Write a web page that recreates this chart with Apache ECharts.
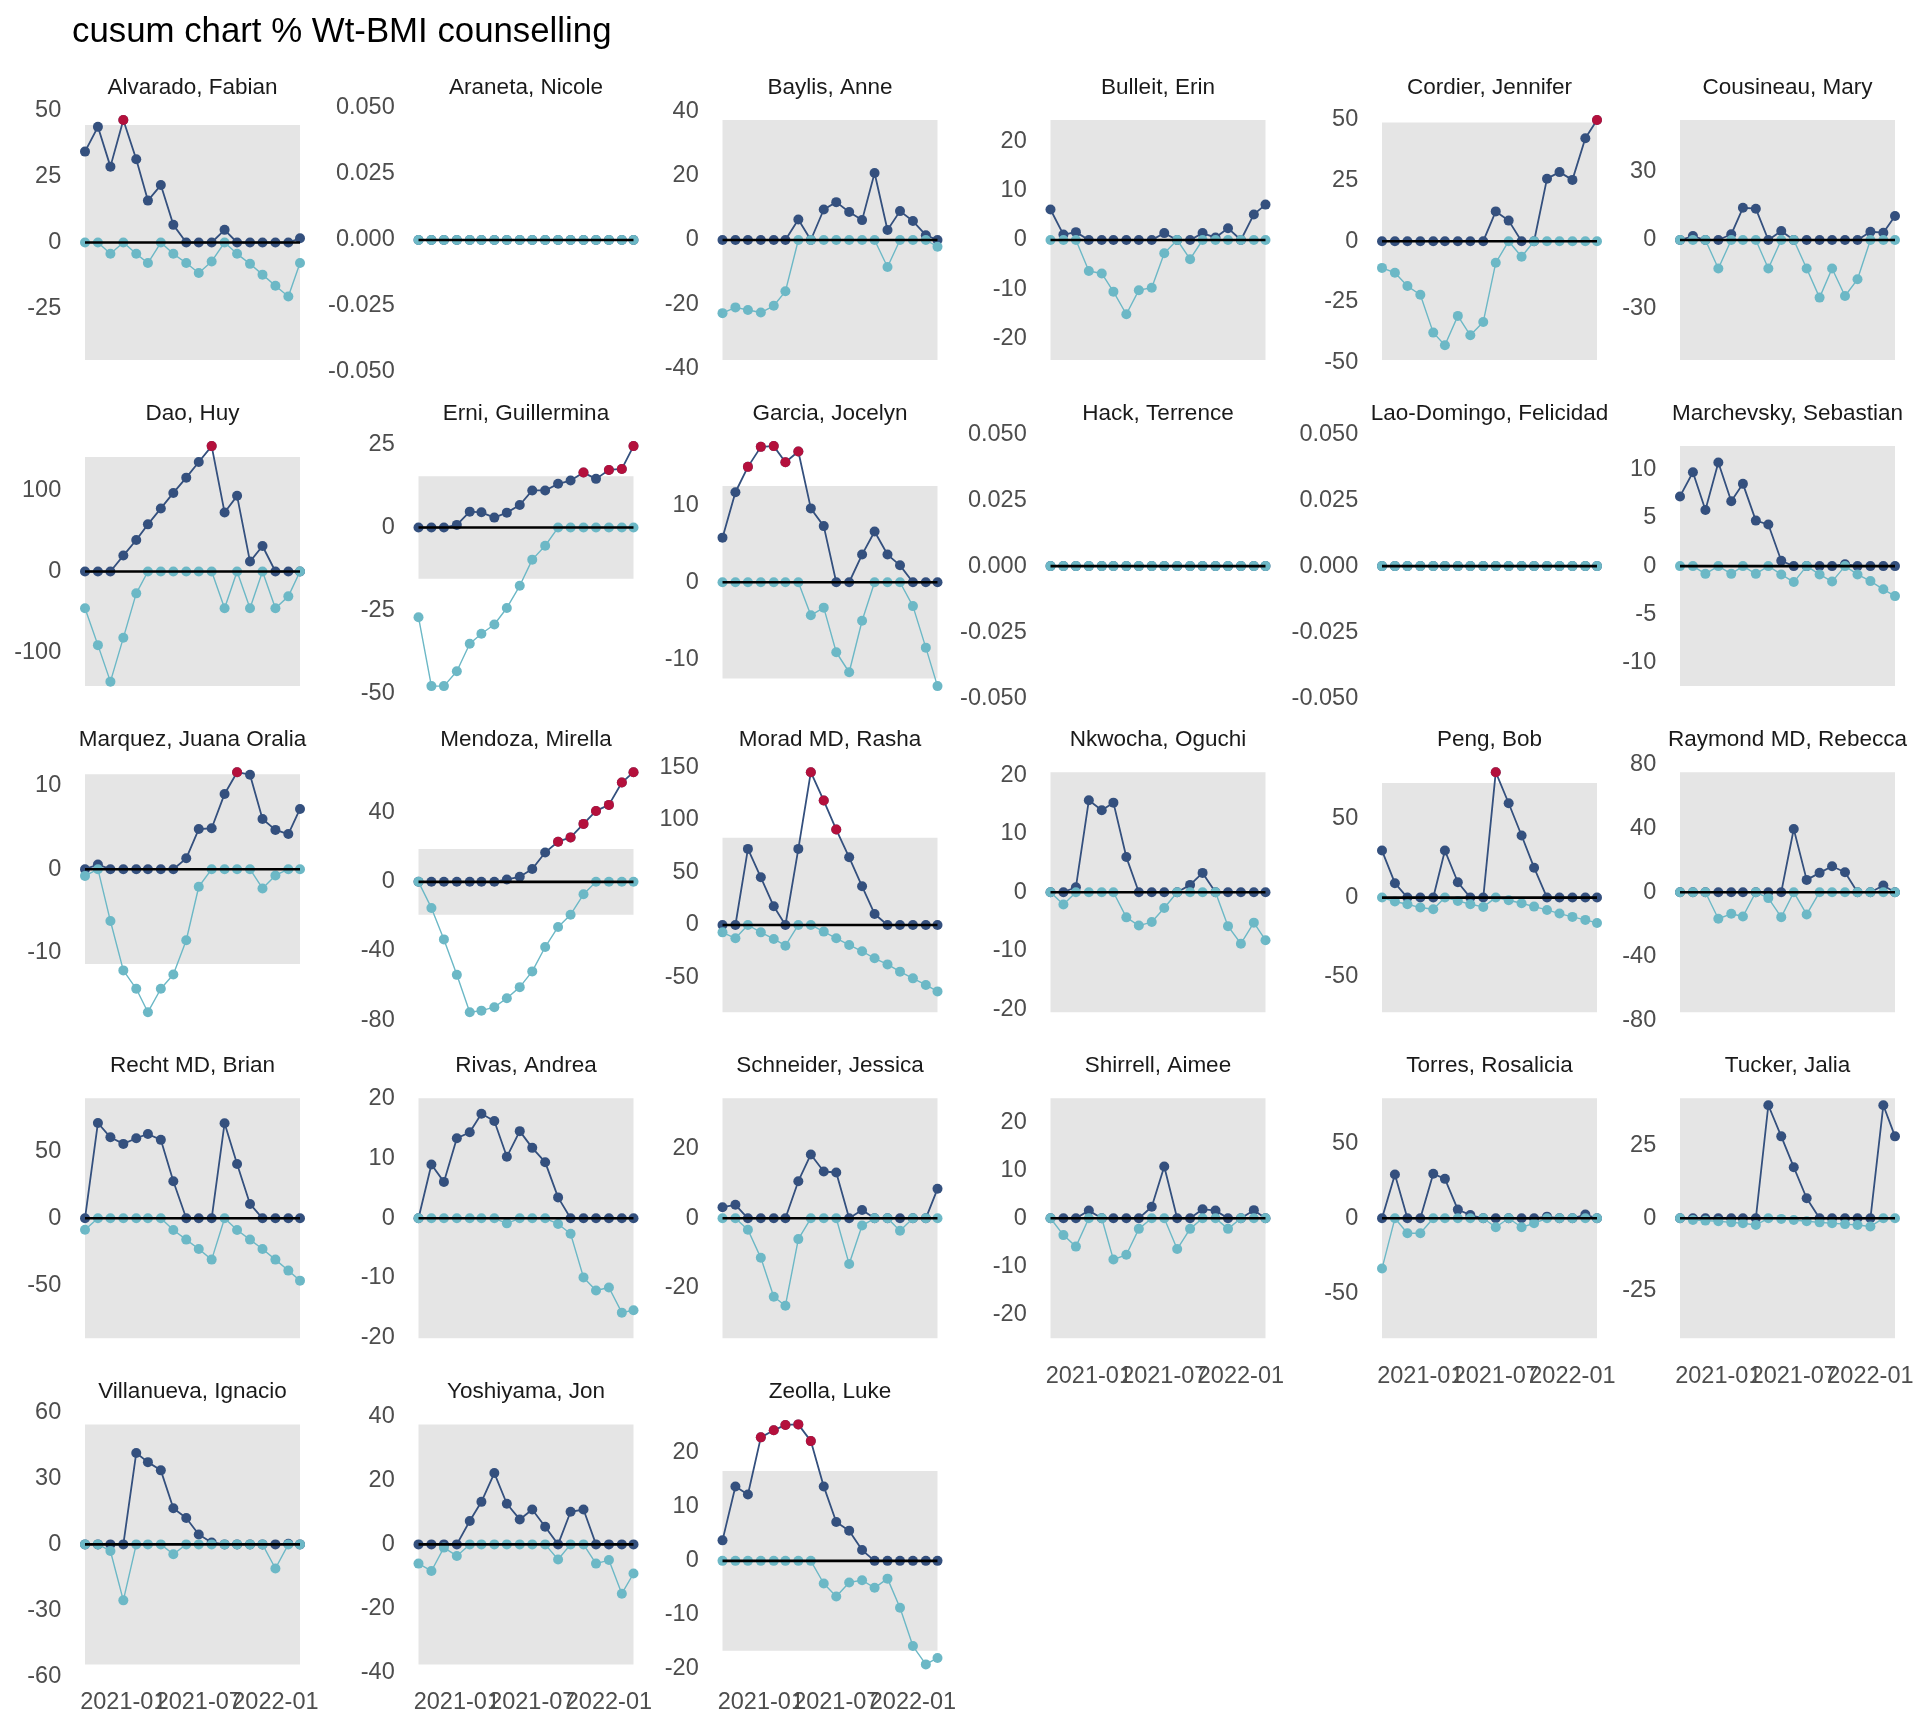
<!DOCTYPE html>
<html>
<head>
<meta charset="utf-8">
<script src="https://cdn.jsdelivr.net/npm/echarts@6/dist/echarts.min.js"></script>
<style>
html,body{margin:0;padding:0;background:#ffffff;}
#c{width:1920px;height:1728px;}
</style>
</head>
<body>
<div id="c"></div>
<script>
// ---------------- DATA ----------------
const chartTitle = 'cusum chart % Wt-BMI counselling';
const months = ['2020-10','2020-11','2020-12','2021-01','2021-02','2021-03','2021-04','2021-05','2021-06',
                '2021-07','2021-08','2021-09','2021-10','2021-11','2021-12','2022-01','2022-02','2022-03'];
const xTickLabels = ['2021-01','2021-07','2022-01'];

const providers = [
  'Alvarado, Fabian','Araneta, Nicole','Baylis, Anne','Bulleit, Erin','Cordier, Jennifer','Cousineau, Mary',
  'Dao, Huy','Erni, Guillermina','Garcia, Jocelyn','Hack, Terrence','Lao-Domingo, Felicidad','Marchevsky, Sebastian',
  'Marquez, Juana Oralia','Mendoza, Mirella','Morad MD, Rasha','Nkwocha, Oguchi','Peng, Bob','Raymond MD, Rebecca',
  'Recht MD, Brian','Rivas, Andrea','Schneider, Jessica','Shirrell, Aimee','Torres, Rosalicia','Tucker, Jalia',
  'Villanueva, Ignacio','Yoshiyama, Jon','Zeolla, Luke'
];

// decision interval (h) per provider; null = no limit band
const hLimit = [44.6, null, 37.4, 24.4, 49, 52.5,
                141, 15.5, 12.5, null, null, 12.4,
                11.35, 19, 83, 20.5, 72.4, 75,
                89.5, 20.1, 34.6, 25, 80, 41.3,
                54.7, 37.5, 16.65];

const Z18 = [0,0,0,0,0,0,0,0,0,0,0,0,0,0,0,0,0,0];

const upperCusum = [
  [34.5,43.9,28.8,46.5,31.6,15.9,21.8,6.7,0,0,0,4.8,0,0,0,0,0,1.6],
  Z18,
  [0,0,0,0,0,0,6.4,0,9.5,11.8,8.7,6.2,20.9,3.1,9.0,5.9,1.5,0],
  [6.2,1.1,1.6,0,0,0,0,0,0,1.4,0,0,1.4,0.5,2.4,0,5.2,7.2],
  [0,0,0,0,0,0,0,0,0,12.3,8.5,0,0,25.8,28.5,25.3,42.5,50.0],
  [0,1.7,0,0,2.5,14.1,13.7,0,3.9,0,0,0,0,0,0,3.6,3.2,10.5],
  [0,0,0,19.6,38.8,58.0,77.6,96.7,115.5,134.7,154.3,72.7,93.1,12.2,31.4,0,0,0],
  [0,0,0,0.8,4.8,4.6,3.0,4.5,6.8,11.2,11.2,13.2,14.2,16.6,14.7,17.4,17.7,24.6],
  [5.8,11.7,15.0,17.6,17.7,15.6,17.0,9.6,7.3,0,0,3.6,6.6,3.6,2.2,0,0,0],
  Z18,
  Z18,
  [7.2,9.7,5.8,10.7,6.7,8.5,4.7,4.3,0.55,0,0,0,0,0.2,0,0,0,0],
  [0,0.55,0,0,0,0,0,0,1.3,4.8,4.9,9.0,11.6,11.3,6.0,4.7,4.2,7.2],
  [0,0,0,0,0,0,0,1.35,2.9,7.4,17.0,23.2,25.7,33.5,41.0,44.5,57.4,63.4],
  [0,0,72.4,45.4,17.8,0,72.4,145.4,118.4,90.8,64.4,36.8,10.5,0,0,0,0,0],
  [0,0,0.85,15.7,14.0,15.3,6.0,0,0,0,0,1.25,3.3,0,0,0,0,0],
  [29.7,9.1,0,0,0,29.7,9.7,0,0,79.2,59.6,39.2,18.9,0,0,0,0,0],
  [0,0,0,0,0,0,0,0,0,39.5,7.7,12.1,16.2,12.5,0,0,4.2,0],
  [0,71.1,60.4,55.5,59.7,62.9,58.5,27.6,0,0,0,70.9,40.5,10.7,0,0,0,0],
  [0,9.0,6.1,13.4,14.4,17.5,16.3,10.3,14.6,11.8,9.4,3.5,0,0,0,0,0,0],
  [3.2,3.9,0,0,0,0,10.7,18.4,13.5,13.2,0,2.4,0,0,0,0,0,8.5],
  [0,0,0,1.6,0,0,0,0,2.4,10.8,0,0,1.9,1.6,0,0,1.7,0],
  [0,29.2,0,0,29.7,26.3,5.8,2.2,0,0,0,0,0,1.1,0,0,2.5,0],
  [0,0,0,0,0,0,0,38.9,28.2,17.6,6.9,0,0,0,0,0,38.9,28.2],
  [0,0,0,0,41.7,37.5,33.75,16.5,12,4.5,0.9,0,0,0,0,0,0.3,0],
  [0,0,0,0,7.3,13.3,22.3,12.7,7.8,10.9,5.5,0,10.2,10.9,0,0,0,0],
  [3.8,13.8,12.3,22.9,24.2,25.2,25.3,22.2,13.8,7.2,5.6,2.0,0,0,0,0,0,0]
];

const lowerCusum = [
  [0,0,-4.3,0,-4.3,-7.8,0,-4.3,-7.8,-11.6,-7.2,0,-4.3,-8.1,-12.2,-16.4,-20.5,-7.8],
  Z18,
  [-22.8,-21.0,-21.8,-22.6,-20.5,-16.0,0,0,0,0,0,0,0,-8.4,0,0,0,-2.1],
  [0,0,0,-6.3,-6.8,-10.5,-15.1,-10.2,-9.7,-2.7,0,-3.9,0,0,0,0,0,0],
  [-11.0,-13.0,-18.5,-22.1,-37.7,-42.9,-30.8,-38.8,-33.3,-8.9,0,-6.4,0,0,0,0,0,0],
  [0,0,0,-12.5,0,0,0,-12.5,0,0,-12.5,-25.2,-12.5,-24.5,-17.2,0,0,0],
  [-45.3,-90.6,-135.5,-81.6,-26.9,0,0,0,0,0,0,-45.3,0,-45.3,0,-45.3,-30.6,0],
  [-27.1,-47.9,-47.9,-43.4,-35.1,-32.1,-29.3,-24.3,-17.6,-9.7,-5.5,0,0,0,0,0,0,0],
  [0,0,0,0,0,0,0,-4.3,-3.3,-9.1,-11.7,-5.0,0,0,0,-3.1,-8.5,-13.5],
  Z18,
  Z18,
  [0,0,-0.8,0,-0.8,0,-0.8,0,-0.86,-1.65,0,-0.86,-1.6,0,-0.86,-1.55,-2.4,-3.1],
  [-0.8,0,-6.2,-12.1,-14.3,-17.1,-14.3,-12.6,-8.5,-2.1,0,0,0,0,-2.3,-0.75,0,0],
  [0,-15.1,-33.3,-53.8,-75.4,-74.5,-72.5,-67.3,-60.9,-51.8,-37.7,-26.1,-19.0,-7.2,0,0,0,0],
  [-7,-12.7,0,-7,-13.3,-19.7,0,0,-6.3,-12.7,-19,-25,-31.7,-37.5,-44.4,-50.8,-57.1,-63.2],
  [0,-2.1,0,0,0,0,-4.3,-5.7,-5.1,-2.7,0,0,0,0,-5.8,-8.8,-5.2,-8.2],
  [0,-2.5,-4.2,-6.3,-7.4,0,-2.1,-4.2,-5.9,0,-1.7,-3.6,-5.7,-7.8,-10.1,-12.2,-14.1,-16.0],
  [0,0,0,-16.6,-13.5,-15.2,0,-3.7,-15.6,0,-13.9,0,0,0,0,0,0,0],
  [-8.5,0,0,0,0,0,0,-8.7,-15.9,-22.9,-30.8,0,-8.7,-15.9,-22.9,-30.8,-39,-46.5],
  [0,0,0,0,0,0,0,-0.85,0,0,0,-0.95,-2.6,-9.9,-12.1,-11.6,-15.8,-15.4],
  [0,0,-3.3,-11.4,-22.6,-25.2,-6.0,0,0,0,-13.2,-2.1,0,0,-3.6,0,0,0],
  [0,-3.5,-5.9,0,0,-8.6,-7.6,-2.2,0,0,-6.4,-2.2,0,0,-2.2,0,0,0],
  [-33.5,0,-10,-10,0,0,0,0,0,-6,0,-6,-3.3,0,0,0,0,0],
  [0,-0.6,-0.8,-1.0,-1.4,-1.7,-2.3,0,-0.2,-0.6,-1.0,-1.4,-1.7,-2.0,-2.3,-2.8,0,0],
  [0,0,-3,-25.5,0,0,0,-4.5,0,0,0,0,0,0,0,-11,0,0],
  [-6.0,-8.3,-1.0,-3.6,0,0,0,0,0,0,0,-4.7,0,0,-6.0,-4.9,-15.4,-9.1],
  [0,0,0,0,0,0,0,0,-4.2,-6.6,-4.0,-3.6,-5.0,-3.3,-8.7,-15.8,-19.2,-18.0]
];

const FLAT_TICKS = [-0.05,-0.025,0,0.025,0.05];
const yTicks = [
  [-25,0,25,50], FLAT_TICKS, [-40,-20,0,20,40], [-20,-10,0,10,20], [-50,-25,0,25,50], [-30,0,30],
  [-100,0,100], [-50,-25,0,25], [-10,0,10], FLAT_TICKS, FLAT_TICKS, [-10,-5,0,5,10],
  [-10,0,10], [-80,-40,0,40], [-50,0,50,100,150], [-20,-10,0,10,20], [-50,0,50], [-80,-40,0,40,80],
  [-50,0,50], [-20,-10,0,10,20], [-20,0,20], [-20,-10,0,10,20], [-50,0,50], [-25,0,25],
  [-60,-30,0,30,60], [-40,-20,0,20,40], [-20,-10,0,10,20]
];

// ---------------- STYLE / LAYOUT ----------------
const FONT = '"Liberation Sans", Arial, Helvetica, sans-serif';
const COL_UPPER = '#34507E';
const COL_LOWER = '#6CB8C6';
const COL_SIGNAL = '#D4002C';
const COL_BAND = '#E5E5E5';
const AXIS_FS = 23.5;
const STRIP_FS = 22.5;
const SYM = 10;

const colDataX = [85, 418.5, 722.5, 1050.5, 1382, 1680];
const dataW = 215;
const padX = dataW * 0.05;
const panelW = dataW + 2 * padX;
const rowTop0 = 108;
const rowStep = 326.1;
const panelH = 264;
const NCOL = 6;

const toTs = m => Date.UTC(+m.slice(0, 4), +m.slice(5, 7) - 1, 1);
const fmtMonth = v => { const d = new Date(v); return d.getUTCFullYear() + '-' + String(d.getUTCMonth() + 1).padStart(2, '0'); };

const ts = months.map(toTs);
const tFirst = ts[0], tLast = ts[ts.length - 1], tSpan = tLast - tFirst;
const xTickTs = xTickLabels.map(toTs);

const grids = [], xAxes = [], yAxes = [], series = [];
const graphics = [{
  type: 'text', x: 72, y: 32,
  style: { text: chartTitle, fontSize: 34.8, fontFamily: FONT, fill: '#000000', align: 'left', verticalAlign: 'middle' }
}];

function makeX(i, labelValues) {
  return {
    type: 'value', gridIndex: i, position: 'bottom', offset: 0,
    min: tFirst - 0.05 * tSpan, max: tLast + 0.05 * tSpan,
    axisLine: { show: false }, axisTick: { show: false }, splitLine: { show: false },
    axisLabel: {
      show: labelValues.length > 0, customValues: labelValues, formatter: fmtMonth,
      color: '#4D4D4D', fontSize: AXIS_FS, fontFamily: FONT, margin: 14, hideOverlap: false
    }
  };
}

providers.forEach((name, i) => {
  const r = Math.floor(i / NCOL), c = i % NCOL;
  const top = rowTop0 + r * rowStep;
  const left = colDataX[c] - padX;
  const U = upperCusum[i], L = lowerCusum[i], h = hLimit[i];
  const flat = h == null && U.every(v => v === 0) && L.every(v => v === 0);
  const bottomOfCol = i + NCOL >= providers.length;

  let yMin, yMax;
  if (flat) { yMin = -0.05; yMax = 0.05; }
  else {
    const lo = Math.min(0, ...U, ...L, h != null ? -h : 0);
    const hi = Math.max(0, ...U, ...L, h != null ? h : 0);
    const sp = hi - lo;
    yMin = lo - 0.05 * sp; yMax = hi + 0.05 * sp;
  }

  grids.push({ left: left, top: top, width: panelW, height: panelH });

  // main x axis of this panel (carries the data)
  const xi = xAxes.length;
  xAxes.push(makeX(i, bottomOfCol ? [xTickTs[0]] : []));
  if (bottomOfCol) {
    // separate label-only axes so overlapping date labels are all drawn (as in the reference)
    for (let k = 1; k < xTickTs.length; k++) xAxes.push(makeX(i, [xTickTs[k]]));
  }

  yAxes.push({
    type: 'value', gridIndex: i, min: yMin, max: yMax, scale: true,
    axisLine: { show: false }, axisTick: { show: false }, splitLine: { show: false },
    axisLabel: {
      customValues: yTicks[i],
      formatter: v => flat ? (v < 0 ? '-' : '') + Math.abs(v).toFixed(3) : String(v),
      color: '#4D4D4D', fontSize: AXIS_FS, fontFamily: FONT, margin: 13, hideOverlap: false
    }
  });

  // decision-interval band
  if (h != null) {
    series.push({
      type: 'custom', xAxisIndex: xi, yAxisIndex: i, z: 1, silent: true,
      encode: { x: [0, 2], y: [1, 3] },
      data: [[tFirst, -h, tLast, h]],
      renderItem: (params, api) => {
        const p1 = api.coord([api.value(0), api.value(3)]);
        const p2 = api.coord([api.value(2), api.value(1)]);
        return { type: 'rect', shape: { x: p1[0], y: p1[1], width: p2[0] - p1[0], height: p2[1] - p1[1] }, style: { fill: COL_BAND } };
      }
    });
  }

  series.push({
    type: 'line', xAxisIndex: xi, yAxisIndex: i, z: 2, silent: true,
    data: ts.map((t, k) => [t, U[k]]),
    symbol: 'circle', symbolSize: SYM, showSymbol: true,
    itemStyle: { color: COL_UPPER, borderWidth: 0 },
    lineStyle: { color: COL_UPPER, width: 1.8 },
    emphasis: { disabled: true }
  });
  series.push({
    type: 'line', xAxisIndex: xi, yAxisIndex: i, z: 3, silent: true,
    data: ts.map((t, k) => [t, L[k]]),
    symbol: 'circle', symbolSize: SYM, showSymbol: true,
    itemStyle: { color: COL_LOWER, borderWidth: 0 },
    lineStyle: { color: COL_LOWER, width: 1.4 },
    emphasis: { disabled: true }
  });
  // target line
  series.push({
    type: 'line', xAxisIndex: xi, yAxisIndex: i, z: 4, silent: true,
    data: [[tFirst, 0], [tLast, 0]], symbol: 'none',
    lineStyle: { color: '#000000', width: 2.6 },
    emphasis: { disabled: true }
  });
  // out-of-control signals
  if (h != null) {
    const sig = ts.map((t, k) => [t, U[k]]).filter(p => p[1] > h);
    if (sig.length) {
      series.push({
        type: 'scatter', xAxisIndex: xi, yAxisIndex: i, z: 5, silent: true,
        data: sig, symbol: 'circle', symbolSize: SYM,
        itemStyle: { color: COL_SIGNAL, borderWidth: 0 },
        emphasis: { disabled: true }
      });
    }
  }

  graphics.push({
    type: 'text', x: colDataX[c] + dataW / 2, y: 87.4 + r * rowStep,
    style: { text: name, fontSize: STRIP_FS, fontFamily: FONT, fill: '#1A1A1A', align: 'center', verticalAlign: 'middle' }
  });
});

const chart = echarts.init(document.getElementById('c'), null, { renderer: 'canvas', width: 1920, height: 1728 });
chart.setOption({
  backgroundColor: '#ffffff',
  animation: false,
  grid: grids,
  xAxis: xAxes,
  yAxis: yAxes,
  series: series,
  graphic: graphics
});
</script>
</body>
</html>
